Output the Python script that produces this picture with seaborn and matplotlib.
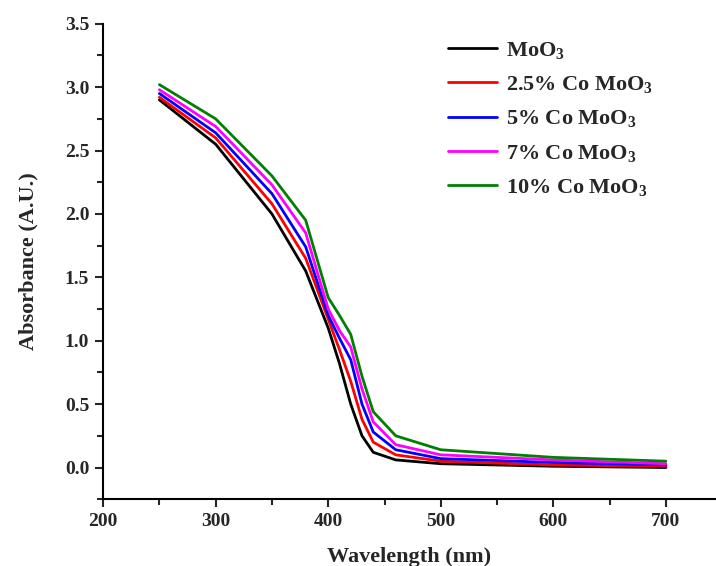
import matplotlib
matplotlib.use("Agg")
import matplotlib.pyplot as plt
import seaborn as sns
import pandas as pd
import numpy as np
from matplotlib.ticker import MultipleLocator

wavelength = [250, 300, 350, 380, 400, 410, 420, 430, 440, 460, 500, 600, 700]
moo3 = [2.90, 2.55, 2.00, 1.55, 1.10, 0.82, 0.50, 0.25, 0.12, 0.06, 0.03, 0.01, 0.00]
co25 = [2.92, 2.60, 2.08, 1.65, 1.17, 0.93, 0.68, 0.38, 0.20, 0.10, 0.05, 0.02, 0.01]
co5 = [2.95, 2.64, 2.16, 1.74, 1.20, 1.02, 0.85, 0.50, 0.28, 0.14, 0.07, 0.04, 0.02]
co7 = [2.98, 2.69, 2.23, 1.85, 1.25, 1.08, 0.95, 0.62, 0.36, 0.18, 0.10, 0.06, 0.03]
co10 = [3.02, 2.75, 2.30, 1.95, 1.34, 1.20, 1.05, 0.72, 0.44, 0.25, 0.14, 0.08, 0.05]
labels = ["MoO$_3$", "2.5% Co MoO$_3$", "5% Co MoO$_3$", "7% Co MoO$_3$", "10% Co MoO$_3$"]
colors = ["#000000", "#ff0000", "#0000ff", "#ff00ff", "#008000"]

series = [moo3, co25, co5, co7, co10]
df = pd.concat([pd.DataFrame({"Wavelength": wavelength, "Absorbance": s, "Sample": l})
                for s, l in zip(series, labels)], ignore_index=True)

sns.set_style("ticks")
plt.rcParams["font.family"] = ["Liberation Serif", "DejaVu Serif"]
plt.rcParams["font.weight"] = "bold"
plt.rcParams["mathtext.default"] = "regular"

fig = plt.figure(figsize=(7.16, 5.66), dpi=100)
ax = fig.add_axes([0.144, 0.118, 0.856, 0.840])
sns.lineplot(data=df, x="Wavelength", y="Absorbance", hue="Sample",
             palette=dict(zip(labels, colors)), hue_order=labels,
             linewidth=2, ax=ax, sort=False, estimator=None)

ax.set_xlim(200, 744.5)
ax.set_ylim(-0.25, 3.5)
ax.xaxis.set_major_locator(MultipleLocator(100))
ax.xaxis.set_minor_locator(MultipleLocator(50))
ax.yaxis.set_major_locator(MultipleLocator(0.5))
ax.yaxis.set_minor_locator(MultipleLocator(0.25))
ax.yaxis.set_major_formatter(matplotlib.ticker.FormatStrFormatter("%.1f"))
ax.tick_params(which="major", direction="out", length=6, width=1.5, labelsize=14, pad=4)
ax.tick_params(which="minor", direction="out", length=4, width=1.5)
for lab in ax.get_xticklabels() + ax.get_yticklabels():
    lab.set_fontweight("bold")
for side in ["top", "right"]:
    ax.spines[side].set_visible(False)
for side in ["left", "bottom"]:
    ax.spines[side].set_linewidth(1.5)
    ax.spines[side].set_color("black")

ax.set_xlabel("Wavelength (nm)", fontsize=16, fontweight="bold", labelpad=12)
ax.set_ylabel("Absorbance (A.U.)", fontsize=16, fontweight="bold", labelpad=19)

leg = ax.legend(loc="upper left", bbox_to_anchor=(0.548, 0.985), frameon=False,
                prop={"size": 16, "weight": "bold"}, handlelength=2.2,
                labelspacing=0.6, handletextpad=0.4, borderaxespad=0)
for line in leg.get_lines():
    line.set_linewidth(2)

fig.savefig("out.png", dpi=100)
